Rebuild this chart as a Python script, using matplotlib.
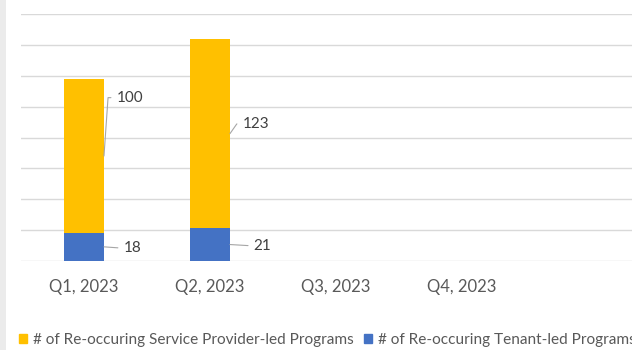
import matplotlib
matplotlib.use("Agg")
import matplotlib.pyplot as plt
from matplotlib.patches import Patch, Rectangle

plt.rcParams['font.family'] = ['Lato', 'DejaVu Sans']

quarters = ["Q1, 2023", "Q2, 2023", "Q3, 2023", "Q4, 2023"]
tenant_led = [18, 21, 0, 0]
provider_led = [100, 123, 0, 0]
series_names = ["# of Re-occuring Service Provider-led Programs",
                "# of Re-occuring Tenant-led Programs"]

yellow = "#FFC000"
blue = "#4472C4"
grey_txt = "#595959"

fig = plt.figure(figsize=(6.32, 3.5), dpi=100)
W, H = 632, 350
ax = fig.add_axes([21 / W, 89.3 / H, 611 / W, 246.4 / H])

x = list(range(len(quarters)))
width = 0.317
ax.bar(x, tenant_led, width, color=blue, zorder=3)
ax.bar(x, provider_led, width, bottom=tenant_led, color=yellow, zorder=3)

ax.set_ylim(0, 160)
ax.set_xlim(-0.5, -0.5 + 611 / 126)
ax.set_yticks(range(0, 161, 20))
ax.yaxis.grid(True, color="#D9D9D9", linewidth=1, zorder=0)
ax.tick_params(axis="y", left=False, labelleft=False)
ax.tick_params(axis="x", length=0, pad=13, labelsize=12, labelcolor=grey_txt)
ax.set_xticks(x)
ax.set_xticklabels(quarters)
for s in ax.spines.values():
    s.set_visible(False)

line_kw = dict(arrowstyle="-", color="#A6A6A6", linewidth=0.8, shrinkA=2, shrinkB=0)

# data labels with leader lines (only for quarters with data)
for i in range(len(quarters)):
    if tenant_led[i] == 0 and provider_led[i] == 0:
        continue
    edge = i + width / 2
    # tenant-led (blue) label, straight leader to the right
    ax.annotate(str(tenant_led[i]), xy=(edge, tenant_led[i] / 2),
                xytext=(14 + 3 * i, -1), textcoords="offset points",
                ha="left", va="center", fontsize=11, color="#404040",
                arrowprops=dict(relpos=(0, 0.5), connectionstyle="arc3", **line_kw))
    # provider-led (yellow) label, elbow leader up and right
    mid = tenant_led[i] + provider_led[i] / 2
    dy = 42 if i == 0 else 7
    ax.annotate(str(provider_led[i]), xy=(edge, mid),
                xytext=(9, dy), textcoords="offset points",
                ha="left", va="center", fontsize=11, color="#404040",
                arrowprops=dict(relpos=(0, 0.5),
                                connectionstyle="angle,angleA=0,angleB=%d,rad=0" % (86 if i == 0 else 55),
                                **line_kw))

handles = [Patch(color=yellow), Patch(color=blue)]
fig.legend(handles, series_names, loc="center left",
           bbox_to_anchor=(19 / W, 1 - 340 / H), ncol=2, frameon=False,
           fontsize=11.1, labelcolor=grey_txt, handlelength=0.5, handleheight=0.5,
           handletextpad=0.4, columnspacing=0.7, borderaxespad=0, borderpad=0)

# light grey border strip on the left edge
fig.add_artist(Rectangle((0, 0), 6 / W, 1, transform=fig.transFigure,
                         facecolor="#EBEBEB", edgecolor="none"))

fig.savefig("out.png", dpi=100)
